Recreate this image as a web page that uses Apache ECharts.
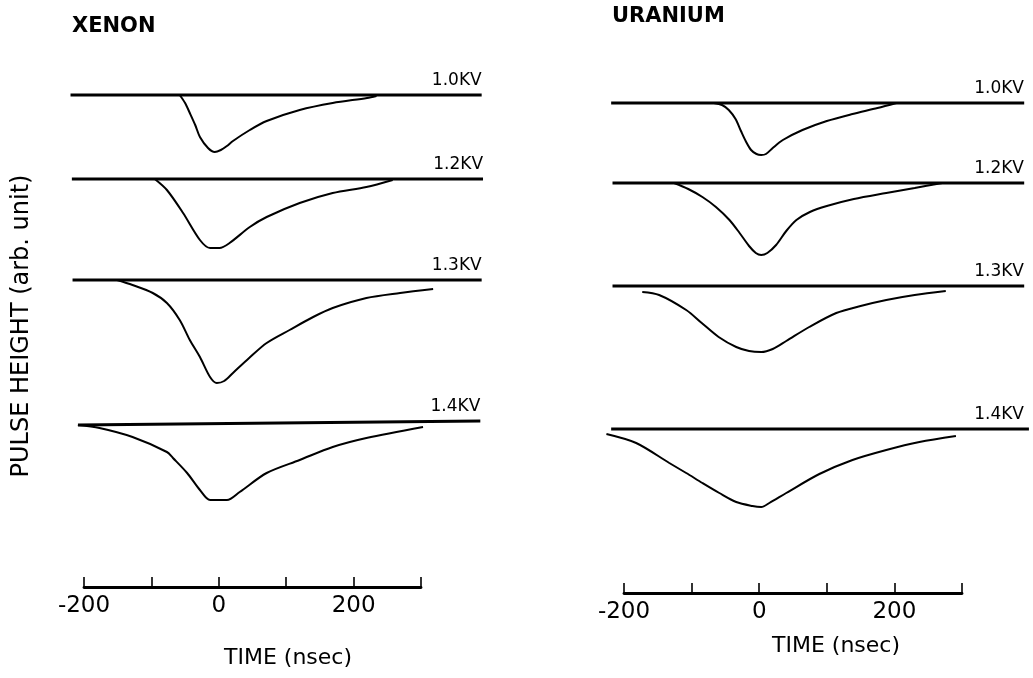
<!DOCTYPE html>
<html>
<head>
<meta charset="utf-8">
<script src="https://cdn.jsdelivr.net/npm/echarts@6/dist/echarts.min.js"></script>
<style>
  html, body { margin: 0; padding: 0; background: #ffffff; }
  #chart { width: 1033px; height: 678px; }
</style>
</head>
<body>
<div id="chart"></div>
<script>
// Anode voltages of the four traces in each panel
const voltages = ['1.0KV', '1.2KV', '1.3KV', '1.4KV'];
// Time axis (nsec)
const timeMin = -200;
const timeMax = 300;
const timeStep = 100;
const tickLabels = [-200, 0, 200];
// Time span covered by the oscilloscope traces (nsec)
const traceMin = -240;
const traceMax = 400;

// Pulse shapes [time (nsec), pulse height (arb. unit)] — XENON
const xenon10 = [[-58,0],[-50,-8],[-43,-18],[-35,-30],[-28,-42],[-16,-53],[-6,-57],[3,-55],[12,-51],[21,-46],[46,-35],[71,-26],[120,-15],[169,-8],[220,-3],[234,-1]];
const xenon12 = [[-95,0],[-77,-11],[-53,-34],[-28,-61],[-13,-69],[1,-69],[16,-64],[46,-48],[71,-38],[120,-24],[169,-14],[219,-8],[258,-1]];
const xenon13 = [[-151,0],[-128,-5],[-98,-13],[-77,-23],[-58,-40],[-43,-60],[-28,-77],[-13,-97],[-3,-103],[8,-101],[21,-93],[45,-78],[71,-63],[105,-50],[140,-37],[169,-28],[219,-18],[269,-13],[318,-9]];
const xenon14 = [[-209,-3],[-177,-6],[-128,-15],[-77,-30],[-68,-36],[-47,-51],[-28,-68],[-13,-78],[12,-78],[31,-70],[71,-51],[120,-38],[169,-25],[219,-16],[303,-5]];

// Pulse shapes — URANIUM
const uranium10 = [[-67,0],[-55,-2],[-45,-7],[-35,-16],[-27,-28],[-20,-38],[-12,-47],[-4,-51],[3,-52],[10,-51],[20,-45],[35,-37],[64,-27],[100,-18],[138,-11],[175,-5],[203,0]];
const uranium12 = [[-126,0],[-105,-6],[-84,-14],[-64,-24],[-44,-37],[-29,-50],[-15,-63],[-5,-70],[3,-72],[12,-70],[25,-62],[40,-48],[55,-37],[75,-29],[100,-23],[140,-16],[188,-10],[230,-5],[271,0]];
const uranium13 = [[-173,-6],[-148,-9],[-108,-24],[-85,-37],[-60,-51],[-34,-61],[-15,-65],[3,-66],[20,-63],[40,-55],[74,-41],[114,-27],[150,-20],[188,-14],[230,-9],[276,-5]];
const uranium14 = [[-226,-5],[-182,-14],[-133,-34],[-108,-44],[-84,-54],[-59,-64],[-34,-73],[-10,-77],[3,-78],[15,-74],[40,-64],[89,-45],[138,-31],[188,-21],[237,-13],[291,-7]];

// Zero-signal baselines [start, end]
const xenonBase10 = [[-220,0],[390,0]];
const xenonBase12 = [[-218,0],[392,0]];
const xenonBase13 = [[-217,0],[390,0]];
const xenonBase14 = [[-209,-3],[388,1]];
const uraniumBase10 = [[-219,0],[392,0]];
const uraniumBase12 = [[-217,0],[392,0]];
const uraniumBase13 = [[-217,0],[392,0]];
const uraniumBase14 = [[-219,0],[399,0]];

const FONT = 'DejaVu Sans';

// Page layout of the two panels
const panels = [
  {
    name: 'XENON', left: 84, width: 337, axisY: 587, rows: [95, 179, 280, 422],
    traces: [xenon10, xenon12, xenon13, xenon14],
    bases: [xenonBase10, xenonBase12, xenonBase13, xenonBase14],
    titleX: 72, titleY: 27, timeX: 288, timeY: 658
  },
  {
    name: 'URANIUM', left: 624, width: 338, axisY: 593, rows: [103, 183, 286, 429],
    traces: [uranium10, uranium12, uranium13, uranium14],
    bases: [uraniumBase10, uraniumBase12, uraniumBase13, uraniumBase14],
    titleX: 612, titleY: 17, timeX: 836, timeY: 646
  }
];

const ROW_H = 120;
const grid = [], xAxis = [], yAxis = [], series = [];

panels.forEach(p => {
  // trace rows share the pixel scale of the time axis, over a wider span
  const scale = p.width / (timeMax - timeMin);
  const traceLeft = p.left + (traceMin - timeMin) * scale;
  const traceWidth = (traceMax - traceMin) * scale;
  p.rows.forEach((top, r) => {
    const gi = grid.length;
    grid.push({ left: traceLeft, width: traceWidth, top: top, height: ROW_H });
    xAxis.push({ gridIndex: gi, type: 'value', min: traceMin, max: traceMax, show: false });
    yAxis.push({ gridIndex: gi, type: 'value', min: -ROW_H, max: 0, show: false });
    series.push({
      type: 'line', xAxisIndex: gi, yAxisIndex: gi, data: p.bases[r],
      clip: false, showSymbol: false, silent: true,
      lineStyle: { color: '#000', width: 2.8 }
    });
    series.push({
      type: 'line', xAxisIndex: gi, yAxisIndex: gi, data: p.traces[r],
      clip: false, showSymbol: false, silent: true, smooth: 0.3,
      lineStyle: { color: '#000', width: 2 }
    });
  });
  // visible time axis
  const ai = grid.length;
  grid.push({ left: p.left, width: p.width, top: p.axisY - 20, height: 20 });
  xAxis.push({
    gridIndex: ai, type: 'value', min: timeMin, max: timeMax, interval: timeStep,
    position: 'bottom',
    axisLine: { show: true, lineStyle: { color: '#000', width: 2.8 } },
    axisTick: { show: true, inside: true, length: 10, lineStyle: { color: '#000', width: 1.6 } },
    splitLine: { show: false },
    axisLabel: {
      show: true, color: '#000', fontFamily: FONT, fontSize: 23, margin: 8,
      formatter: v => tickLabels.indexOf(v) >= 0 ? String(v) : ''
    }
  });
  yAxis.push({ gridIndex: ai, type: 'value', show: false });
});

const chart = echarts.init(document.getElementById('chart'), null, { renderer: 'canvas' });
chart.setOption({
  backgroundColor: '#ffffff',
  animation: false,
  grid, xAxis, yAxis, series
});

// Text: panel titles, voltage labels, axis titles
const graphic = [];
panels.forEach((p, pi) => {
  graphic.push({
    type: 'text', x: p.titleX, y: p.titleY,
    style: { text: p.name, fill: '#000', font: 'bold 21px "' + FONT + '"', align: 'left', verticalAlign: 'middle' }
  });
  graphic.push({
    type: 'text', x: p.timeX, y: p.timeY,
    style: { text: 'TIME (nsec)', fill: '#000', font: '22px "' + FONT + '"', align: 'center', verticalAlign: 'middle' }
  });
  p.bases.forEach((b, r) => {
    const end = b[b.length - 1];
    const pt = chart.convertToPixel({ gridIndex: pi * 5 + r }, end);
    graphic.push({
      type: 'text', x: Math.min(pt[0], 1024), y: pt[1] - 6,
      style: { text: voltages[r], fill: '#000', font: '17px "' + FONT + '"', align: 'right', verticalAlign: 'bottom' }
    });
  });
});
graphic.push({
  type: 'text', x: 22, y: 326, rotation: Math.PI / 2,
  style: { text: 'PULSE HEIGHT (arb. unit)', fill: '#000', font: '24px "' + FONT + '"', align: 'center', verticalAlign: 'middle' }
});
chart.setOption({ graphic });
</script>
</body>
</html>
